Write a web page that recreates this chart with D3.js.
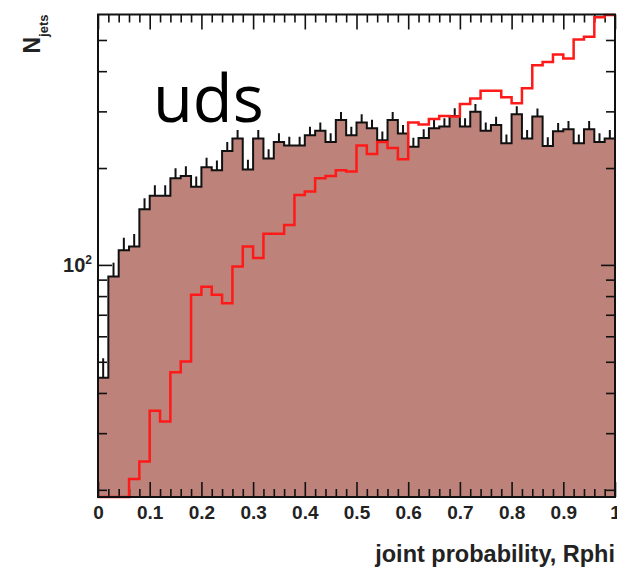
<!DOCTYPE html>
<html>
<head>
<meta charset="utf-8">
<script src="https://cdn.jsdelivr.net/npm/d3@7"></script>
<style>
  html, body { margin: 0; padding: 0; background: #ffffff; }
  svg { display: block; }
</style>
</head>
<body>
<svg id="chart" width="617" height="572"></svg>
<script>
// Histogram binning: 50 bins over the joint probability range [0, 1]
const xRange = [0, 1];
const nBins = 50;

// Jet counts per bin: filled uds histogram (with Poisson error bars)
const udsCounts = [44.6, 92, 111, 114, 149, 164, 164, 186, 189, 175,
                   201, 197, 226, 247, 198, 247, 214, 241, 235, 235,
                   253, 261, 241, 282, 253, 277, 266, 244, 282, 256,
                   233, 248, 266, 269, 290, 269, 299, 261, 272, 239,
                   294, 247, 289, 234, 260, 264, 239, 264, 241, 247];

// Jet counts per bin: red outline histogram (first bins empty)
const refCounts = [0, 0, 0, 21.6, 24.5, 35.2, 32.6, 46.4, 50.1, 80.7,
                   85.6, 80.7, 76.0, 98.8, 114, 105, 125, 125, 133, 165,
                   169, 186, 189, 197, 195, 235, 221, 241, 231, 213,
                   277, 273, 284, 290, 289, 316, 329, 348, 348, 332,
                   318, 354, 417, 427, 451, 438, 502, 512, 588, 598];

// Axis ticks
const xMajorTicks = [0, 0.1, 0.2, 0.3, 0.4, 0.5, 0.6, 0.7, 0.8, 0.9, 1];
const xTickLabels = ["0", "0.1", "0.2", "0.3", "0.4", "0.5", "0.6", "0.7", "0.8", "0.9", "1"];
const xMinorStep = 0.02;
const yDomain = [19, 600];
const yMajorTicks = [100];
const yMinorTicks = [20, 30, 40, 50, 60, 70, 80, 90, 200, 300, 400, 500];

const plotLabel = "uds";
const xTitle = "joint probability, Rphi";
const yTitleMain = "N";
const yTitleSub = "jets";

// ---- layout ----
const frame = { left: 98, right: 615, top: 14.5, bottom: 497 };
const fillColor = "#bd8279";

const svg = d3.select("#chart");

const x = d3.scaleLinear().domain(xRange).range([frame.left, frame.right]);
const y = d3.scaleLog().domain(yDomain).range([frame.bottom, frame.top]);
const yClamped = v => (v > yDomain[0] ? y(v) : frame.bottom);

const binWidth = (xRange[1] - xRange[0]) / nBins;
const binLow = i => xRange[0] + i * binWidth;

// step points: left edge of each bin plus the closing right edge
const stepPoints = counts => {
  const pts = counts.map((c, i) => [binLow(i), c]);
  pts.push([xRange[1], counts[counts.length - 1]]);
  return pts;
};

svg.append("defs").append("clipPath").attr("id", "plotClip")
  .append("rect")
  .attr("x", frame.left).attr("y", frame.top - 2)
  .attr("width", frame.right - frame.left)
  .attr("height", frame.bottom - frame.top + 4);

const plot = svg.append("g").attr("clip-path", "url(#plotClip)");

// filled uds histogram
const area = d3.area()
  .curve(d3.curveStepAfter)
  .x(d => x(d[0]))
  .y0(frame.bottom)
  .y1(d => yClamped(d[1]));

plot.append("path")
  .datum(stepPoints(udsCounts))
  .attr("d", area)
  .attr("fill", fillColor)
  .attr("stroke", "none");

// Poisson error bars (upper part above the bin content)
plot.append("g").selectAll("line")
  .data(udsCounts)
  .join("line")
  .attr("x1", (c, i) => x(binLow(i) + binWidth / 2))
  .attr("x2", (c, i) => x(binLow(i) + binWidth / 2))
  .attr("y1", c => yClamped(c))
  .attr("y2", c => y(c + Math.sqrt(c)))
  .attr("stroke", "#111")
  .attr("stroke-width", 2);

const line = d3.line()
  .curve(d3.curveStepAfter)
  .x(d => x(d[0]))
  .y(d => yClamped(d[1]));

plot.append("path")
  .datum(stepPoints(udsCounts))
  .attr("d", line)
  .attr("fill", "none")
  .attr("stroke", "#111")
  .attr("stroke-width", 2);

// ---- axes ----
const tickFont = "bold 19px 'Liberation Sans', Arial, sans-serif";
const xMinorTicks = d3.range(0, nBins + 1)
  .map(i => +(i * xMinorStep).toFixed(2))
  .filter(v => !xMajorTicks.some(m => Math.abs(m - v) < 1e-9));

const styleAxis = g => {
  g.select(".domain").remove();
  g.selectAll(".tick line").attr("stroke", "#111").attr("stroke-width", 1.6);
};

// bottom
svg.append("g").attr("transform", `translate(0,${frame.bottom})`)
  .call(d3.axisBottom(x).tickValues(xMajorTicks)
    .tickFormat((d, i) => xTickLabels[i])
    .tickSizeInner(-15).tickSizeOuter(0).tickPadding(9))
  .call(styleAxis)
  .call(g => g.selectAll("text")
    .style("font", tickFont).attr("fill", "#222"));
svg.append("g").attr("transform", `translate(0,${frame.bottom})`)
  .call(d3.axisBottom(x).tickValues(xMinorTicks).tickFormat("")
    .tickSizeInner(-8).tickSizeOuter(0))
  .call(styleAxis);

// top
svg.append("g").attr("transform", `translate(0,${frame.top})`)
  .call(d3.axisTop(x).tickValues(xMajorTicks).tickFormat("")
    .tickSizeInner(-15).tickSizeOuter(0))
  .call(styleAxis);
svg.append("g").attr("transform", `translate(0,${frame.top})`)
  .call(d3.axisTop(x).tickValues(xMinorTicks).tickFormat("")
    .tickSizeInner(-8).tickSizeOuter(0))
  .call(styleAxis);

// left
svg.append("g").attr("transform", `translate(${frame.left},0)`)
  .call(d3.axisLeft(y).tickValues(yMajorTicks).tickFormat("")
    .tickSizeInner(-14).tickSizeOuter(0))
  .call(styleAxis);
svg.append("g").attr("transform", `translate(${frame.left},0)`)
  .call(d3.axisLeft(y).tickValues(yMinorTicks).tickFormat("")
    .tickSizeInner(-9).tickSizeOuter(0))
  .call(styleAxis);

// right
svg.append("g").attr("transform", `translate(${frame.right},0)`)
  .call(d3.axisRight(y).tickValues(yMajorTicks).tickFormat("")
    .tickSizeInner(-14).tickSizeOuter(0))
  .call(styleAxis);
svg.append("g").attr("transform", `translate(${frame.right},0)`)
  .call(d3.axisRight(y).tickValues(yMinorTicks).tickFormat("")
    .tickSizeInner(-9).tickSizeOuter(0))
  .call(styleAxis);

// power-of-ten label on the log axis
yMajorTicks.forEach(v => {
  const exp = Math.round(Math.log10(v));
  const t = svg.append("text")
    .attr("x", frame.left - 6)
    .attr("y", y(v) + 7)
    .attr("text-anchor", "end")
    .style("font", "bold 20px 'Liberation Sans', Arial, sans-serif")
    .attr("fill", "#222");
  t.append("tspan").text("10");
  t.append("tspan").attr("dy", -8).style("font-size", "12px").text(String(exp));
});

// red outline histogram
svg.append("path")
  .datum(stepPoints(refCounts))
  .attr("d", line)
  .attr("fill", "none")
  .attr("stroke", "#ff1a1a")
  .attr("stroke-width", 2.5);

// frame
svg.append("rect")
  .attr("x", frame.left).attr("y", frame.top)
  .attr("width", frame.right - frame.left)
  .attr("height", frame.bottom - frame.top)
  .attr("fill", "none")
  .attr("stroke", "#111")
  .attr("stroke-width", 2);

// axis titles
svg.append("text")
  .attr("x", frame.right)
  .attr("y", 562)
  .attr("text-anchor", "end")
  .style("font", "bold 23.5px 'Liberation Sans', Arial, sans-serif")
  .attr("fill", "#222")
  .text(xTitle);

const yt = svg.append("text")
  .attr("transform", `translate(40,${frame.top}) rotate(-90)`)
  .attr("text-anchor", "end")
  .style("font", "bold 23px 'Liberation Sans', Arial, sans-serif")
  .attr("fill", "#222");
yt.append("tspan").text(yTitleMain);
yt.append("tspan").attr("dy", 8).style("font-size", "13px").text(yTitleSub);

// sample label
svg.append("text")
  .attr("x", 153)
  .attr("y", 122)
  .style("font", "65px 'Open Sans', sans-serif")
  .attr("fill", "#000")
  .text(plotLabel);
</script>
</body>
</html>
